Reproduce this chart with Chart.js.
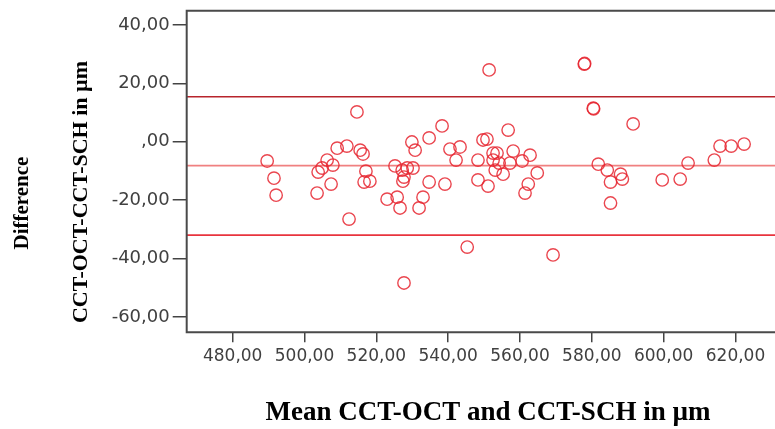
<!DOCTYPE html>
<html>
<head>
<meta charset="utf-8">
<script src="https://cdn.jsdelivr.net/npm/chart.js@4.4.1/dist/chart.umd.min.js"></script>
<style>
body{margin:0;background:#fff;}
canvas{display:block;}
</style>
</head>
<body>
<canvas id="chart-bland" width="775" height="429"></canvas>
<script>
// mean of the two methods (x) and their difference (y)
let meanVals=[489.6,491.5,492.1,503.5,503.8,504.9,506.3,507.9,507.4,509.1,
  511.8,512.4,515.5,516.3,516.6,517.1,518.2,514.6,525.2,527.2,
  528.6,530.2,527.7,527.4,529.9,530.8,534.7,538.3,540.5,543.3,
  542.2,548.3,549.7,534.7,539.1,523.0,525.8,526.6,533.0,531.9,
  548.3,527.7,545.3,556.7,550.8,552.5,553.6,552.5,554.2,553.1,
  555.3,558.1,562.8,560.6,557.2,564.8,551.1,562.3,561.4,551.4,
  577.9,580.4,591.5,581.8,584.3,585.2,588.0,588.5,585.2,599.6,
  604.6,606.8,614.1,615.7,618.8,622.4,569.2,578.0,580.5];
let diffVals=[-6.6,-12.5,-18.3,-17.6,-10.4,-9.0,-6.3,-8.0,-14.5,-2.2,
  -1.5,-26.5,-2.9,-4.2,-13.8,-10.1,-13.5,10.2,-8.3,-9.7,
  -9.0,-9.0,-12.1,-13.5,-0.1,-2.9,1.3,5.4,-2.5,-1.8,
  -6.3,-6.3,0.6,-13.8,-14.5,-19.7,-19.0,-22.7,-19.0,-22.7,
  -13.1,-48.4,-36.1,4.0,0.9,-3.9,-3.9,-6.3,-7.3,-9.7,
  -11.1,-3.2,-4.6,-6.6,-7.3,-10.7,-15.2,-14.5,-17.6,24.6,
  26.6,11.5,6.1,-7.7,-9.7,-13.8,-11.1,-12.8,-21.0,-13.1,
  -12.8,-7.3,-6.3,-1.5,-1.5,-0.8,-38.8,26.8,11.3];

// mean difference and limits of agreement
let upperLoA=15.4, meanDiff=-8.2, lowerLoA=-32.0;

let xTicks=[480,500,520,540,560,580,600,620];
let yTicks=[-60,-40,-20,0,20,40];
let xMin=467.2, xMax=631, yMin=-65.3, yMax=44.9;

function fmt(v){ // SPSS style: 0 -> ",00"
    if (v===0) return ',00';
    return v.toFixed(2).replace('.',',');
}

function hLine(val,color){
    return {
        type:'line',
        data:[{x:xMin,y:val},{x:xMax,y:val}],
        borderColor:color,
        borderWidth:1.6,
        pointRadius:0,
        order:2
    };
}

let points=meanVals.map((m,i)=>({x:m,y:diffVals[i]}));

function rotText(ctx,txt,x,y,size){
    ctx.save();
    ctx.fillStyle='#000';
    ctx.font='bold '+size+'px "Liberation Serif", "Times New Roman", serif';
    ctx.textAlign='center';
    ctx.textBaseline='middle';
    ctx.translate(x,y);
    ctx.rotate(-Math.PI/2);
    ctx.fillText(txt,0,0);
    ctx.restore();
}

// frame round the plot (right side is cut off) + axis titles
const framePlugin={
    id:'frame',
    afterDraw(chart){
        const ctx=chart.ctx, a=chart.chartArea, w=chart.width;
        ctx.save();
        ctx.strokeStyle='#4a4a4a';
        ctx.lineWidth=2;
        ctx.beginPath();
        ctx.moveTo(w+2,a.top);
        ctx.lineTo(a.left,a.top);
        ctx.lineTo(a.left,a.bottom);
        ctx.lineTo(w+2,a.bottom);
        ctx.stroke();
        ctx.restore();

        rotText(ctx,'Difference',23,203,21);
        rotText(ctx,'CCT-OCT-CCT-SCH in \u00b5m',81,192,22);

        ctx.save();
        ctx.fillStyle='#000';
        ctx.font='bold 27px "Liberation Serif", "Times New Roman", serif';
        ctx.textAlign='center';
        ctx.textBaseline='middle';
        ctx.fillText('Mean CCT-OCT and CCT-SCH in \u00b5m',488,413);
        ctx.restore();
    }
};

new Chart(document.getElementById('chart-bland'),{
    type:'scatter',
    data:{
        datasets:[
            {
                data:points,
                borderColor:'rgba(230,38,48,0.85)',
                backgroundColor:'rgba(0,0,0,0)',
                pointRadius:6.2,
                pointBorderWidth:1.4,
                order:1
            },
            hLine(upperLoA,'#b8242c'),
            hLine(meanDiff,'#f08080'),
            hLine(lowerLoA,'#e8343e')
        ]
    },
    options:{
        responsive:false,
        animation:false,
        layout:{autoPadding:false,padding:{top:10.7,left:0,right:0,bottom:0}},
        plugins:{legend:{display:false},tooltip:{enabled:false}},
        scales:{
            x:{
                type:'linear',min:xMin,max:xMax,
                afterBuildTicks:s=>{ s.ticks=xTicks.map(v=>({value:v})); },
                afterFit:s=>{ s.height=96.7; s.paddingLeft=0; s.paddingRight=0; },
                grid:{drawOnChartArea:false,drawTicks:true,tickLength:10,color:'#444',lineWidth:1.5},
                border:{display:false},
                ticks:{
                    callback:v=>fmt(v),
                    color:'#404040',
                    padding:4,
                    maxRotation:0,
                    autoSkip:false,
                    font:{family:'"DejaVu Sans", sans-serif',size:17}
                }
            },
            y:{
                type:'linear',min:yMin,max:yMax,
                afterBuildTicks:s=>{ s.ticks=yTicks.map(v=>({value:v})); },
                afterFit:s=>{ s.width=186.7; s.paddingTop=0; s.paddingBottom=0; },
                grid:{drawOnChartArea:false,drawTicks:true,tickLength:14,color:'#444',lineWidth:1.5},
                border:{display:false},
                ticks:{
                    callback:v=>fmt(v),
                    color:'#404040',
                    padding:3,
                    autoSkip:false,
                    font:{family:'"DejaVu Sans", sans-serif',size:18}
                }
            }
        }
    },
    plugins:[framePlugin]
});
</script>
</body>
</html>
